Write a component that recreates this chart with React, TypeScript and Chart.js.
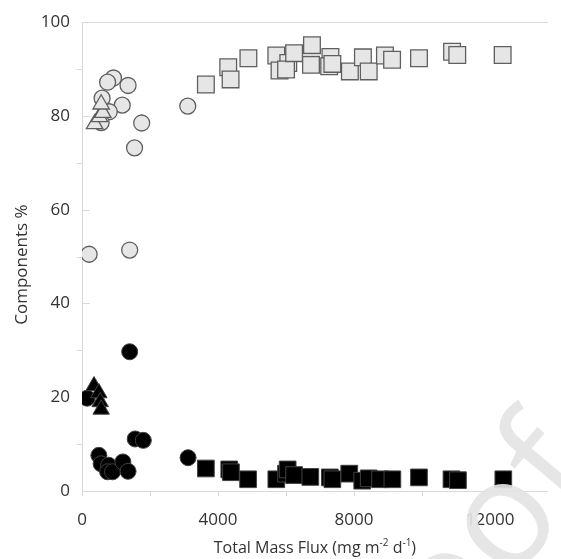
import React, { useEffect, useRef } from "react";
import { Chart, registerables } from "chart.js";
Chart.register(...registerables);

const xTickValues = [0, 4000, 8000, 12000];
const yTickValues = [0, 20, 40, 60, 80, 100];
const xTitleMain = "Total Mass Flux (mg m";
const yTitle = "Components %";
const watermark = "Journal Pre-proof";

const grayCircleX = [210, 1402, 3110, 925, 753, 1354, 591, 1183, 801, 1755, 1545, 563];
const grayCircleY = [50.5, 51.4, 82.1, 88.1, 87.2, 86.5, 83.8, 82.3, 80.9, 78.5, 73.2, 78.6];

const grayTriX = [372, 515, 610, 563];
const grayTriY = [78.3, 79.8, 80.7, 82.5];

const graySquareX = [3643, 4300, 4369, 4893, 5714, 5808, 6066, 6000, 6237, 6762, 6733, 7305, 7268, 7362, 7877, 8260, 8431, 8908, 9118, 9909, 10882, 11035, 12370];
const graySquareY = [86.7, 90.4, 87.8, 92.3, 92.9, 89.7, 91.3, 89.9, 93.4, 95.1, 90.9, 92.6, 90.6, 91.1, 89.5, 92.5, 89.5, 92.9, 92.0, 92.3, 93.7, 93.0, 93.0];

const blackCircleX = [153, 496, 563, 782, 753, 897, 1202, 1354, 1564, 1803, 3119, 1402];
const blackCircleY = [19.8, 7.6, 5.8, 5.5, 4.1, 4.1, 6.2, 4.2, 11.1, 10.8, 7.1, 29.7];

const blackTriX = [353, 496, 535, 563];
const blackTriY = [22.4, 20.9, 19.0, 17.4];

const blackSquareX = [3643, 4330, 4380, 4884, 5714, 6000, 6047, 6237, 6714, 7287, 7362, 7859, 8240, 8431, 8765, 9127, 9909, 10864, 11055, 12389];
const blackSquareY = [4.8, 4.6, 4.0, 2.5, 2.5, 3.7, 4.6, 3.4, 3.0, 2.9, 2.5, 3.7, 2.2, 2.7, 2.5, 2.5, 2.9, 2.5, 2.3, 2.5];

const zip = (xs: number[], ys: number[]) => xs.map((x, i) => ({ x, y: ys[i] }));

const FONT = "'Open Sans', sans-serif";
const AXIS_COLOR = "#d9d9d9";
const TEXT_COLOR = "#333333";

const decorPlugin = {
  id: "decor",
  beforeDatasetsDraw(chart: any) {
    const { ctx, chartArea, scales } = chart;
    const xs = scales.x;
    const ys = scales.y;
    ctx.save();
    ctx.strokeStyle = AXIS_COLOR;
    ctx.lineWidth = 1;
    ctx.beginPath();
    ctx.moveTo(chartArea.left, Math.round(chartArea.top) + 0.5);
    ctx.lineTo(chartArea.right, Math.round(chartArea.top) + 0.5);
    for (let v = 0; v <= 100; v += 10) {
      const py = Math.round(ys.getPixelForValue(v)) + 0.5;
      if (v % 20 === 0) {
        ctx.moveTo(chartArea.left, py);
        ctx.lineTo(chartArea.left + 8, py);
      } else {
        ctx.moveTo(chartArea.left - 5, py);
        ctx.lineTo(chartArea.left, py);
      }
    }
    for (let v = 0; v <= 12000; v += 2000) {
      const px = Math.round(xs.getPixelForValue(v)) + 0.5;
      ctx.moveTo(px, chartArea.bottom);
      ctx.lineTo(px, chartArea.bottom + 5);
    }
    ctx.stroke();
    ctx.restore();
  },
  afterDraw(chart: any) {
    const { ctx, chartArea } = chart;
    ctx.save();
    ctx.fillStyle = TEXT_COLOR;
    // y title
    ctx.save();
    ctx.translate(22, (chartArea.top + chartArea.bottom) / 2 + 8);
    ctx.rotate(-Math.PI / 2);
    ctx.font = `17px ${FONT}`;
    ctx.textAlign = "center";
    ctx.textBaseline = "middle";
    ctx.fillText(yTitle, 0, 0);
    ctx.restore();
    // x title with superscripts
    const big = `16px ${FONT}`;
    const small = `10px ${FONT}`;
    const parts: [string, string, number][] = [
      [xTitleMain, big, 0],
      ["-2", small, -5],
      [" d", big, 0],
      ["-1", small, -5],
      [")", big, 0],
    ];
    let total = 0;
    for (const [t, f] of parts) {
      ctx.font = f;
      total += ctx.measureText(t).width;
    }
    let x = (chartArea.left + chartArea.right) / 2 - total / 2;
    const y = 548;
    ctx.textBaseline = "middle";
    ctx.textAlign = "left";
    for (const [t, f, dy] of parts) {
      ctx.font = f;
      ctx.fillText(t, x, y + dy);
      x += ctx.measureText(t).width;
    }
    // watermark
    ctx.save();
    ctx.translate(600, 477);
    ctx.rotate(-50 * Math.PI / 180);
    ctx.font = `150px ${FONT}`;
    ctx.fillStyle = "rgba(228,228,228,0.92)";
    ctx.textAlign = "right";
    ctx.textBaseline = "alphabetic";
    ctx.fillText(watermark, 0, 0);
    ctx.restore();
    ctx.restore();
  },
};

export default function App() {
  const ref = useRef<HTMLCanvasElement>(null);
  useEffect(() => {
    if (!ref.current) return;
    const grayFill = "#e6e6e6";
    const grayBorder = "#5f5f5f";
    const blackBorder = "#404040";
    const chart = new Chart(ref.current, {
      type: "scatter",
      data: {
        datasets: [
          { label: "gc", data: zip(grayCircleX, grayCircleY), pointStyle: "circle", pointRadius: 8, backgroundColor: grayFill, borderColor: grayBorder, borderWidth: 1.3, order: 3 },
          { label: "gt", data: zip(grayTriX, grayTriY), pointStyle: "triangle", pointRadius: 9.5, backgroundColor: grayFill, borderColor: grayBorder, borderWidth: 1.3, order: 2 },
          { label: "gs", data: zip(graySquareX, graySquareY), pointStyle: "rect", pointRadius: 11.8, backgroundColor: grayFill, borderColor: grayBorder, borderWidth: 1.3, order: 1 },
          { label: "bc", data: zip(blackCircleX, blackCircleY), pointStyle: "circle", pointRadius: 8, backgroundColor: "#000", borderColor: blackBorder, borderWidth: 1, order: 3 },
          { label: "bt", data: zip(blackTriX, blackTriY), pointStyle: "triangle", pointRadius: 9.5, backgroundColor: "#000", borderColor: blackBorder, borderWidth: 1, order: 2 },
          { label: "bs", data: zip(blackSquareX, blackSquareY), pointStyle: "rect", pointRadius: 11.8, backgroundColor: "#000", borderColor: blackBorder, borderWidth: 1, order: 1 },
        ],
      },
      options: {
        animation: false,
        responsive: false,
        devicePixelRatio: 1,
        layout: { padding: { left: 0, right: 0, top: 17, bottom: 0 } },
        plugins: { legend: { display: false }, tooltip: { enabled: false } },
        scales: {
          x: {
            type: "linear",
            min: 0,
            max: 13700,
            afterFit: (s: any) => { s.height = 68; },
            afterBuildTicks: (s: any) => { s.ticks = xTickValues.map((v) => ({ value: v })); },
            grid: { display: false, drawTicks: false },
            border: { display: true, color: AXIS_COLOR, width: 1 },
            ticks: { padding: 19, color: TEXT_COLOR, font: { family: FONT, size: 17 }, maxRotation: 0, autoSkip: false, callback: (v: any) => String(v) },
          },
          y: {
            type: "linear",
            min: 0,
            max: 100,
            afterFit: (s: any) => { s.width = 82; },
            afterBuildTicks: (s: any) => { s.ticks = yTickValues.map((v) => ({ value: v })); },
            grid: { display: false, drawTicks: false },
            border: { display: true, color: AXIS_COLOR, width: 1 },
            ticks: { padding: 12, color: TEXT_COLOR, font: { family: FONT, size: 17 }, autoSkip: false, callback: (v: any) => String(v) },
          },
        },
      },
      plugins: [decorPlugin],
    } as any);
    return () => chart.destroy();
  }, []);
  return (
    <div style={{ position: "fixed", left: 0, top: 0, width: 561, height: 559, background: "#fff" }}>
      <canvas ref={ref} width={561} height={559} />
    </div>
  );
}
